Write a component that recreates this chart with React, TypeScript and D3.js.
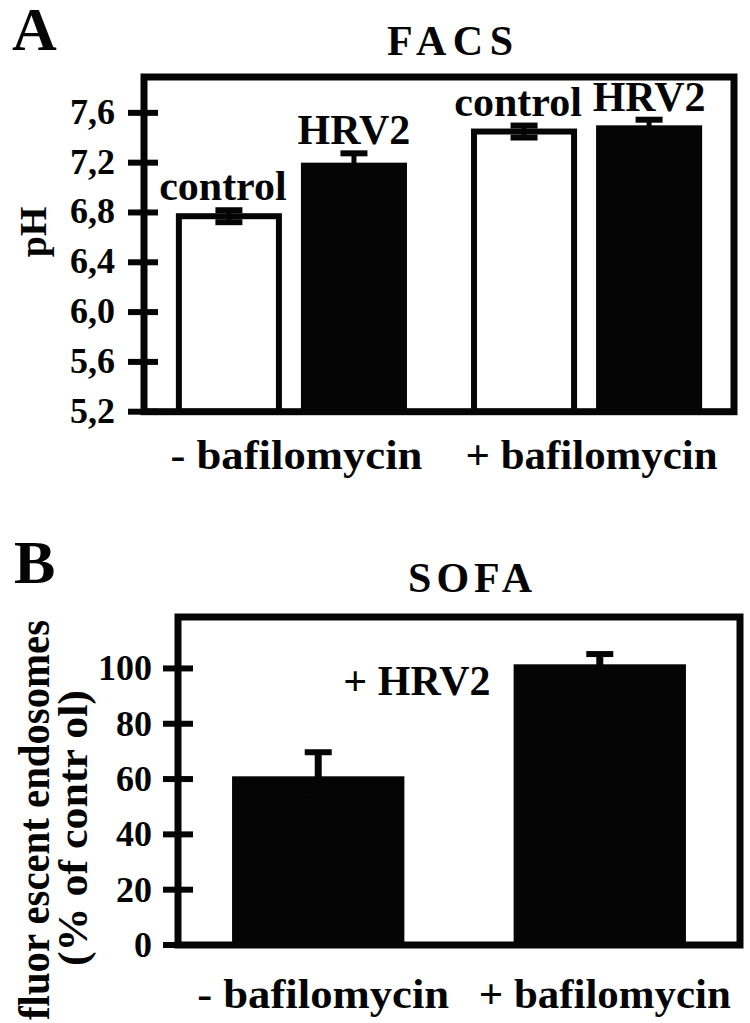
import React from "react";
import * as d3 from "d3";

// ---------- Panel A data (FACS) ----------
const groupsA = ["- bafilomycin", "+ bafilomycin"];
const seriesA = ["control", "HRV2"];
const phValues = [
  [6.77, 7.2],
  [7.45, 7.5],
];
const phErrors = [
  [0.048, 0.075],
  [0.048, 0.045],
];
const phTicks = [5.2, 5.6, 6.0, 6.4, 6.8, 7.2, 7.6];

// ---------- Panel B data (SOFA) ----------
const groupsB = ["- bafilomycin", "+ bafilomycin"];
const sofaValues = [61, 101.5];
const sofaErrors = [8.7, 3.7];
const sofaTicks = [0, 20, 40, 60, 80, 100];

const FONT = "Liberation Serif";
const INK = "#050505";

const commaFmt = d3.formatLocale({
  decimal: ",",
  thousands: ".",
  grouping: [3],
  currency: ["", ""],
}).format(".1f");

function ErrorBar({ x, y0, y1, cap, stem, thick }: any) {
  return (
    <g stroke={INK} fill="none">
      <line x1={x} x2={x} y1={y0} y2={y1} strokeWidth={stem} />
      <line x1={x - cap / 2} x2={x + cap / 2} y1={y0} y2={y0} strokeWidth={thick} />
      <line x1={x - cap / 2} x2={x + cap / 2} y1={y1} y2={y1} strokeWidth={thick} />
    </g>
  );
}

export default function App() {
  const xA = d3
    .scaleBand<string>()
    .domain(groupsA)
    .range([144, 734])
    .paddingInner(0.217)
    .paddingOuter(0.108);
  const xAi = d3
    .scaleBand<string>()
    .domain(seriesA)
    .range([0, xA.bandwidth()])
    .paddingInner(0.152)
    .paddingOuter(0);
  const yA = d3.scaleLinear().domain([5.2, 7.888]).range([411.7, 77]);

  const xB = d3
    .scaleBand<string>()
    .domain(groupsB)
    .range([178, 740])
    .paddingInner(0.388)
    .paddingOuter(0.192);
  const yB = d3.scaleLinear().domain([0, 118.6]).range([945, 617]);

  const [ax0, ax1] = xA.range();
  const [ayB, ayT] = yA.range();
  const [bx0, bx1] = xB.range();
  const [byB, byT] = yB.range();

  const txt: React.CSSProperties = {
    fontFamily: "'Liberation Serif', 'Times New Roman', Tinos, serif",
    fontWeight: 700,
  };

  return (
    <svg
      width={750}
      height={1023}
      viewBox="0 0 750 1023"
      style={{ position: "absolute", left: 0, top: 0, background: "#fff", ...txt }}
    >
      <rect x={0} y={0} width={750} height={1023} fill="#fff" />

      {/* ================= Panel A ================= */}
      <text x={12} y={50} fontSize={62} fill={INK} style={txt}>A</text>
      <text
        x={450}
        y={55}
        fontSize={42}
        textAnchor="middle"
        textLength={126}
        lengthAdjust="spacing"
        fill={INK}
        style={txt}
      >
        FACS
      </text>

      {groupsA.map((g, gi) =>
        seriesA.map((s, si) => {
          const v = phValues[gi][si];
          const e = phErrors[gi][si];
          const x0 = (xA(g) as number) + (xAi(s) as number);
          const w = xAi.bandwidth();
          const yt = yA(v);
          const cx = x0 + w / 2;
          const isControl = si === 0;
          return (
            <g key={g + s}>
              {isControl ? (
                <rect
                  x={x0 + 3}
                  y={yt}
                  width={w - 6}
                  height={ayB - yt}
                  fill="#fff"
                  stroke={INK}
                  strokeWidth={6}
                />
              ) : (
                <rect x={x0} y={yt} width={w} height={ayB - yt} fill={INK} />
              )}
              <ErrorBar
                x={cx}
                y0={yA(v + e)}
                y1={yA(v - e)}
                cap={27}
                stem={5}
                thick={6}
              />
              <text
                x={cx + (isControl ? -6 : 0)}
                y={yA(v + e) - (isControl ? 10 : 9)}
                fontSize={42}
                textAnchor="middle"
                fill={INK}
                style={txt}
              >
                {s}
              </text>
            </g>
          );
        })
      )}

      <rect
        x={ax0}
        y={ayT}
        width={ax1 - ax0}
        height={ayB - ayT}
        fill="none"
        stroke={INK}
        strokeWidth={7}
      />

      {phTicks.map((t) => (
        <g key={t}>
          <line x1={ax0 - 16} x2={ax0 + 14} y1={yA(t)} y2={yA(t)} stroke={INK} strokeWidth={6} />
          <text x={115} y={yA(t) + 11} fontSize={36} textAnchor="end" fill={INK} style={txt}>
            {commaFmt(t)}
          </text>
        </g>
      ))}

      <text
        transform={`translate(46, ${232}) rotate(-90)`}
        fontSize={38}
        textAnchor="middle"
        fill={INK}
        style={txt}
      >
        pH
      </text>

      {groupsA.map((g) => (
        <text
          key={g}
          x={(xA(g) as number) + xA.bandwidth() / 2 + 5}
          y={469}
          fontSize={42}
          textAnchor="middle"
          textLength={252}
          lengthAdjust="spacingAndGlyphs"
          fill={INK}
          style={txt}
        >
          {g}
        </text>
      ))}

      {/* ================= Panel B ================= */}
      <text x={14} y={583} fontSize={62} fill={INK} style={txt}>B</text>
      <text
        x={470}
        y={592}
        fontSize={42}
        textAnchor="middle"
        textLength={124}
        lengthAdjust="spacing"
        fill={INK}
        style={txt}
      >
        SOFA
      </text>

      {groupsB.map((g, i) => {
        const v = sofaValues[i];
        const e = sofaErrors[i];
        const x0 = xB(g) as number;
        const w = xB.bandwidth();
        const cx = x0 + w / 2;
        return (
          <g key={g}>
            <rect x={x0} y={yB(v)} width={w} height={byB - yB(v)} fill={INK} />
            <ErrorBar x={cx} y0={yB(v + e)} y1={yB(v - e)} cap={27} stem={7} thick={6} />
          </g>
        );
      })}

      <text
        x={(xB(groupsB[1]) as number) - 23}
        y={695}
        fontSize={42}
        textAnchor="end"
        fill={INK}
        style={txt}
      >
        + HRV2
      </text>

      <rect
        x={bx0}
        y={byT}
        width={bx1 - bx0}
        height={byB - byT}
        fill="none"
        stroke={INK}
        strokeWidth={7}
      />

      {sofaTicks.map((t) => (
        <g key={t}>
          <line x1={bx0 - 15} x2={bx0 + 15} y1={yB(t)} y2={yB(t)} stroke={INK} strokeWidth={6} />
          <text x={152} y={yB(t) + 12} fontSize={36} textAnchor="end" fill={INK} style={txt}>
            {t}
          </text>
        </g>
      ))}

      <text
        transform={`translate(49, ${820}) rotate(-90)`}
        fontSize={44}
        textAnchor="middle"
        textLength={400}
        lengthAdjust="spacingAndGlyphs"
        fill={INK}
        style={txt}
      >
        fluor escent endosomes
      </text>
      <text
        transform={`translate(87, ${828}) rotate(-90)`}
        fontSize={42}
        textAnchor="middle"
        textLength={276}
        lengthAdjust="spacingAndGlyphs"
        fill={INK}
        style={txt}
      >
        (%  of contr ol)
      </text>

      {groupsB.map((g) => (
        <text
          key={g}
          x={(xB(g) as number) + xB.bandwidth() / 2 + 5}
          y={1008}
          fontSize={42}
          textAnchor="middle"
          textLength={252}
          lengthAdjust="spacingAndGlyphs"
          fill={INK}
          style={txt}
        >
          {g}
        </text>
      ))}
    </svg>
  );
}
